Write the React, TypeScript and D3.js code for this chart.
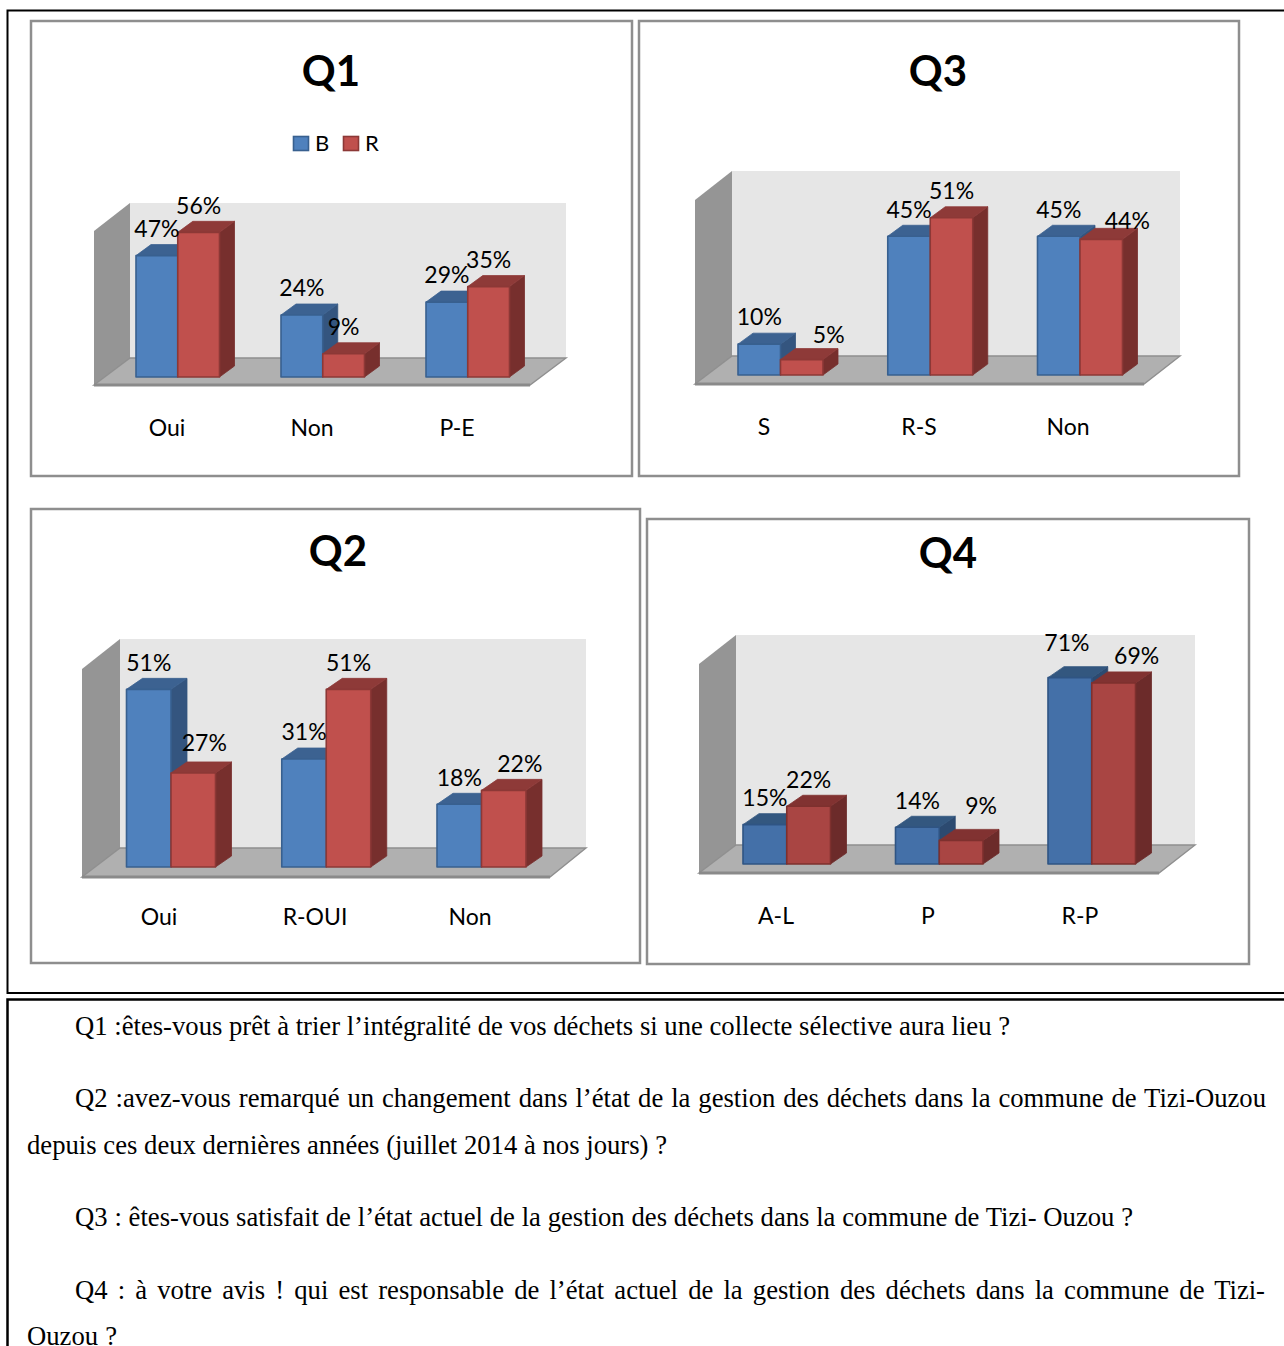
import React, { useLayoutEffect, useRef } from "react";
import * as d3 from "d3";

// values, in percent
const q1Categories = ["Oui", "Non", "P-E"];
const q1B = [47, 24, 29];
const q1R = [56, 9, 35];

const q2Categories = ["Oui", "R-OUI", "Non"];
const q2B = [51, 31, 18];
const q2R = [27, 51, 22];

const q3Categories = ["S", "R-S", "Non"];
const q3B = [10, 45, 45];
const q3R = [5, 51, 44];

const q4Categories = ["A-L", "P", "R-P"];
const q4B = [15, 14, 71];
const q4R = [22, 9, 69];

const seriesNames = ["B", "R"];

const noteLines = [
  "Q1 :êtes-vous prêt à trier l’intégralité de vos déchets si une collecte sélective aura lieu ?",
  "Q2 :avez-vous remarqué un changement dans l’état de la gestion des déchets dans la commune de Tizi-Ouzou",
  "depuis ces deux dernières années (juillet 2014 à nos jours) ?",
  "Q3 : êtes-vous satisfait de l’état actuel de la gestion des déchets dans la commune de Tizi- Ouzou ?",
  "Q4 : à votre avis ! qui est responsable de l’état actuel de la gestion des déchets dans la commune de Tizi-",
  "Ouzou ?",
];
const noteX = [75, 75, 27, 75, 75, 27];
const noteY = [1035, 1107, 1154, 1226, 1299, 1345];
const noteWidth = [935, 1191, 640, 1058, 1190, 90];

const LABEL_FONT = "Lato, 'Open Sans', sans-serif";

const normalColors = {
  B: { front: "#4f81bd", top: "#3c6291", side: "#34557f", stroke: "#38608f" },
  R: { front: "#c0504d", top: "#8e3a38", side: "#772f2d", stroke: "#8c3836" },
};
const darkColors = {
  B: { front: "#4470a8", top: "#33577f", side: "#2c4a70", stroke: "#2f5483" },
  R: { front: "#a94543", top: "#813231", side: "#6c2b2a", stroke: "#7e302e" },
};

interface Panel {
  title: string;
  categories: string[];
  b: number[];
  r: number[];
  max: number;
  colors: typeof normalColors;
  frame: [number, number, number, number];
  titleX: number;
  titleY: number;
  wall: { left: number; right: number; top: number; bottom: number };
  floor: { left: number; right: number; y: number };
  base: number;
  barsFrom: number;
  barsTo: number;
  groupWidth: number;
  groupStep: number;
  depth: [number, number];
  labelY: number;
  nudges: Record<string, [number, number]>;
  categoryX: number[];
}

const panels: Panel[] = [
  {
    title: "Q1",
    categories: q1Categories,
    b: q1B,
    r: q1R,
    max: 60,
    colors: normalColors,
    frame: [31, 21, 632, 476],
    titleX: 331,
    titleY: 71,
    wall: { left: 130, right: 566, top: 203, bottom: 358 },
    floor: { left: 94, right: 530, y: 385 },
    base: 377,
    barsFrom: 136,
    barsTo: 509.5,
    groupWidth: 83.5,
    groupStep: 145,
    depth: [15, 11],
    labelY: 428,
    nudges: {},
    categoryX: [167, 312, 457],
  },
  {
    title: "Q3",
    categories: q3Categories,
    b: q3B,
    r: q3R,
    max: 60,
    colors: normalColors,
    frame: [639, 21, 1239, 476],
    titleX: 938,
    titleY: 71,
    wall: { left: 732, right: 1180, top: 171, bottom: 356 },
    floor: { left: 695, right: 1144, y: 384 },
    base: 375,
    barsFrom: 738,
    barsTo: 1122.5,
    groupWidth: 85,
    groupStep: 149.75,
    depth: [15, 11],
    labelY: 427,
    nudges: { R0: [27, 2], R2: [26, 8] },
    categoryX: [764, 919, 1068],
  },
  {
    title: "Q2",
    categories: q2Categories,
    b: q2B,
    r: q2R,
    max: 60,
    colors: normalColors,
    frame: [31, 509, 640, 963],
    titleX: 338,
    titleY: 551,
    wall: { left: 120, right: 586, top: 639, bottom: 848 },
    floor: { left: 82, right: 550, y: 877 },
    base: 867,
    barsFrom: 126.5,
    barsTo: 526,
    groupWidth: 89,
    groupStep: 155.25,
    depth: [16, 11],
    labelY: 917,
    nudges: { R0: [11, -3], R2: [16, 0] },
    categoryX: [159, 315, 470],
  },
  {
    title: "Q4",
    categories: q4Categories,
    b: q4B,
    r: q4R,
    max: 80,
    colors: darkColors,
    frame: [647, 519, 1249, 964],
    titleX: 948,
    titleY: 553,
    wall: { left: 736, right: 1195, top: 635, bottom: 845 },
    floor: { left: 699, right: 1159, y: 873 },
    base: 864,
    barsFrom: 743,
    barsTo: 1135.5,
    groupWidth: 87.5,
    groupStep: 152.5,
    depth: [16, 11],
    labelY: 916,
    nudges: { R1: [20, -8], B2: [-3, -8], R2: [23, 0] },
    categoryX: [776, 928, 1080],
  },
];

const outline = (pts: [number, number][]) => d3.line()(pts) + "Z";

const ChartPanel = ({ p }: { p: Panel }) => {
  const [x0, y0, x1, y1] = p.frame;
  const { wall, floor, base } = p;
  const [dx, dy] = p.depth;

  const groupX = d3
    .scaleBand<string>()
    .domain(p.categories)
    .range([p.barsFrom, p.barsTo])
    .paddingInner(1 - p.groupWidth / p.groupStep);
  const barX = d3
    .scaleBand<string>()
    .domain(seriesNames)
    .range([0, groupX.bandwidth()]);
  const y = d3
    .scaleLinear()
    .domain([0, p.max])
    .range([base, base - (wall.bottom - wall.top)]);

  const sideTop = wall.top + (floor.y - wall.bottom) + 1;

  const bars = p.categories.flatMap((cat, i) =>
    seriesNames.map((name) => ({
      key: `${name}${i}`,
      name: name as "B" | "R",
      value: (name === "B" ? p.b : p.r)[i],
      x: (groupX(cat) as number) + (barX(name) as number),
    })),
  );
  const w = barX.bandwidth();

  return (
    <g>
      <rect
        x={x0}
        y={y0}
        width={x1 - x0}
        height={y1 - y0}
        fill="#fff"
        stroke="#8e8e8e"
        strokeWidth={2.5}
      />
      <text
        x={p.titleX}
        y={p.titleY}
        dy="0.36em"
        textAnchor="middle"
        fontFamily={LABEL_FONT}
        fontWeight={700}
        fontSize={42}
        fill="#000"
      >
        {p.title}
      </text>

      {/* walls and floor */}
      <rect
        x={wall.left}
        y={wall.top}
        width={wall.right - wall.left}
        height={wall.bottom - wall.top}
        fill="#e6e6e6"
      />
      <path
        d={outline([
          [floor.left, sideTop],
          [wall.left, wall.top],
          [wall.left, wall.bottom],
          [floor.left, floor.y],
        ])}
        fill="#959595"
      />
      <path
        d={outline([
          [wall.left, wall.bottom],
          [wall.right, wall.bottom],
          [floor.right, floor.y],
          [floor.left, floor.y],
        ])}
        fill="#b0b0b0"
        stroke="#8f8f8f"
        strokeWidth={1.4}
      />
      <line
        x1={floor.left}
        x2={floor.right}
        y1={floor.y}
        y2={floor.y}
        stroke="#8a8a8a"
        strokeWidth={3}
      />

      {/* bars, left to right so each one covers its neighbour's side */}
      {bars.map((b) => {
        const c = p.colors[b.name];
        const top = y(b.value);
        return (
          <g key={b.key} strokeLinejoin="round">
            <path
              d={outline([
                [b.x + w, top],
                [b.x + w + dx, top - dy],
                [b.x + w + dx, base - dy],
                [b.x + w, base],
              ])}
              fill={c.side}
              stroke={c.side}
              strokeWidth={0.8}
            />
            <path
              d={outline([
                [b.x, top],
                [b.x + dx, top - dy],
                [b.x + w + dx, top - dy],
                [b.x + w, top],
              ])}
              fill={c.top}
              stroke={c.top}
              strokeWidth={0.8}
            />
            <rect
              x={b.x}
              y={top}
              width={w}
              height={base - top}
              fill={c.front}
              stroke={c.stroke}
              strokeWidth={1.6}
            />
          </g>
        );
      })}

      {/* data labels */}
      {bars.map((b) => {
        const [nx, ny] = p.nudges[b.key] ?? [0, 0];
        return (
          <text
            key={b.key}
            x={b.x + w / 2 + nx}
            y={y(b.value) - 27 + ny}
            dy="0.36em"
            textAnchor="middle"
            fontFamily={LABEL_FONT}
            fontSize={23}
            fill="#000"
          >
            {d3.format("d")(b.value)}%
          </text>
        );
      })}

      {p.categories.map((cat, i) => (
        <text
          key={cat}
          x={p.categoryX[i]}
          y={p.labelY}
          dy="0.36em"
          textAnchor="middle"
          fontFamily={LABEL_FONT}
          fontSize={23}
          fill="#000"
        >
          {cat}
        </text>
      ))}
    </g>
  );
};

const Legend = () => {
  const colors = [normalColors.B, normalColors.R];
  const legendX = d3.scalePoint<string>().domain(seriesNames).range([293, 343]);
  return (
    <g>
      {seriesNames.map((name, i) => (
        <g key={name} transform={`translate(${legendX(name)},136)`}>
          <rect
            x={0.5}
            y={0.5}
            width={15}
            height={14}
            fill={colors[i].front}
            stroke={colors[i].stroke}
            strokeWidth={1.6}
          />
          <text
            x={22}
            y={7.5}
            dy="0.36em"
            fontFamily={LABEL_FONT}
            fontSize={22}
            fill="#000"
          >
            {name}
          </text>
        </g>
      ))}
    </g>
  );
};

const App = () => {
  const notesRef = useRef<SVGGElement | null>(null);

  // stretch the word gaps of the note lines to their measured width
  useLayoutEffect(() => {
    if (!notesRef.current) return;
    d3.select(notesRef.current)
      .selectAll<SVGTextElement, unknown>("text")
      .each(function (_, i) {
        const gaps = noteLines[i].split(" ").length - 1;
        if (!gaps) return;
        const extra = (noteWidth[i] - this.getComputedTextLength()) / gaps;
        d3.select(this).attr("word-spacing", extra);
      });
  }, []);

  return (
    <svg
      width={1284}
      height={1346}
      viewBox="0 0 1284 1346"
      style={{ position: "absolute", left: 0, top: 0, display: "block" }}
    >
      <rect width={1284} height={1346} fill="#fff" />

      <path
        d="M1284,10.5H7.5V993H1284"
        fill="none"
        stroke="#000"
        strokeWidth={2}
      />
      <path
        d="M1284,999.5H7.5V1346"
        fill="none"
        stroke="#000"
        strokeWidth={2.5}
      />

      {panels.map((p) => (
        <ChartPanel key={p.title} p={p} />
      ))}
      <Legend />

      <g
        ref={notesRef}
        fontFamily="'Liberation Serif', serif"
        fontSize={26.67}
        fill="#000"
      >
        {noteLines.map((line, i) => (
          <text key={i} x={noteX[i]} y={noteY[i]}>
            {line}
          </text>
        ))}
      </g>
    </svg>
  );
};

export default App;
